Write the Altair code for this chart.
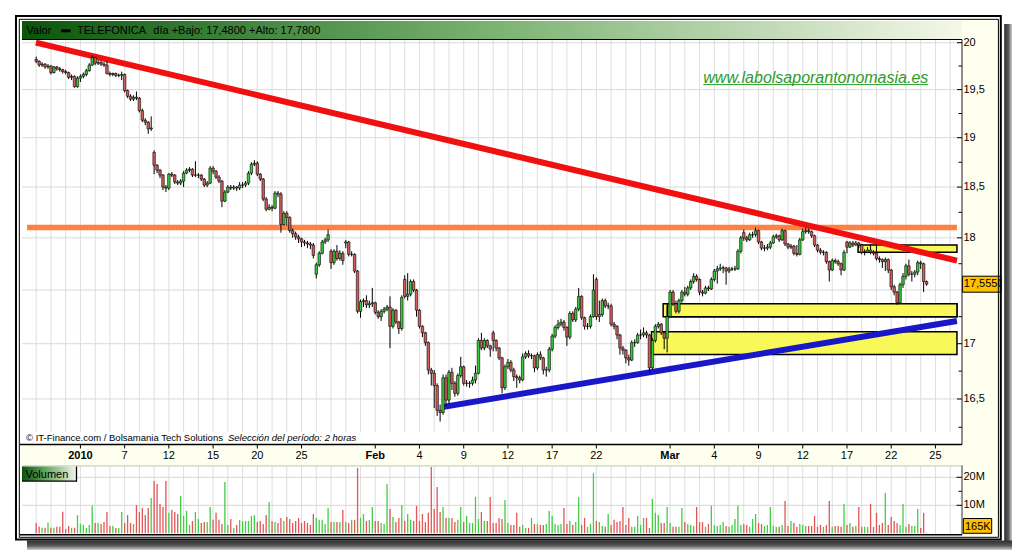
import altair as alt
import pandas as pd

# ------------------------------------------------------------------ axis categories
TRADING_DAYS = [d for d in pd.bdate_range("2009-12-29", "2010-03-26") if d != pd.Timestamp("2010-01-01")]
FIRST_2010 = TRADING_DAYS.index(pd.Timestamp("2010-01-04"))
BARS_PER_DAY = 5  # 2-hour bars

DATE_TICKS = ["2010-01-04", "2010-01-07", "2010-01-12", "2010-01-15", "2010-01-20", "2010-01-25",
              "2010-02-01", "2010-02-04", "2010-02-09", "2010-02-12", "2010-02-17", "2010-02-22",
              "2010-03-01", "2010-03-04", "2010-03-09", "2010-03-12", "2010-03-17", "2010-03-22", "2010-03-25"]
DATE_LABELS = ["2010", "7", "12", "15", "20", "25", "Feb", "4", "9", "12", "17", "22",
               "Mar", "4", "9", "12", "17", "22", "25"]
DATE_BOLD = [True, False, False, False, False, False, True, False, False, False, False, False,
             True, False, False, False, False, False, False]

PRICE_MAJOR = [16.5, 17.0, 18.0, 18.5, 19.0, 19.5, 20.0]       # labelled (17,5 hidden under the quote box)
PRICE_MINOR = [16.25, 16.75, 17.25, 17.75, 18.25, 18.75, 19.25, 19.75]
PRICE_GRID = [16.5, 17.0, 17.5, 18.0, 18.5, 19.0, 19.5, 20.0]
VOLUME_MAJOR = [10, 20]
VOLUME_MINOR = [15]

# ------------------------------------------------------------------ TELEFONICA 2-hour bars
FIRST_OPEN = 19.82
CLOSE = [
    19.80, 19.76, 19.77, 19.74, 19.75,  19.68, 19.74, 19.72, 19.71, 19.69,  19.68, 19.63, 19.64, 19.53, 19.62,
    19.64, 19.66, 19.70, 19.76, 19.84,  19.78, 19.79, 19.77, 19.76, 19.67,  19.66, 19.67, 19.65, 19.65, 19.66,
    19.49, 19.43, 19.40, 19.42, 19.41,  19.28, 19.18, 19.16, 19.09, 19.10,
    18.72, 18.67, 18.62, 18.50, 18.49,  18.63, 18.62, 18.55, 18.54, 18.56,  18.64, 18.67, 18.68, 18.62, 18.62,
    18.62, 18.58, 18.52, 18.54, 18.69,  18.66, 18.60, 18.56, 18.36, 18.45,
    18.50, 18.49, 18.50, 18.49, 18.52,  18.52, 18.54, 18.64, 18.73, 18.74,  18.63, 18.58, 18.38, 18.28, 18.30,
    18.29, 18.44, 18.43, 18.13, 18.24,  18.20, 18.07, 18.04, 18.01, 17.99,
    17.96, 17.95, 17.94, 17.93, 17.83,  17.74, 17.85, 17.96, 17.98, 18.03,  17.76, 17.87, 17.80, 17.85, 17.78,
    17.96, 17.84, 17.84, 17.68, 17.30,  17.39, 17.40, 17.36, 17.37, 17.38,
    17.29, 17.25, 17.30, 17.32, 17.34,  17.16, 17.31, 17.20, 17.14, 17.43,  17.44, 17.46, 17.58, 17.50, 17.31,
    17.16, 17.10, 17.01, 16.76, 16.73,  16.62, 16.40, 16.38, 16.69, 16.49,
    16.74, 16.64, 16.55, 16.71, 16.79,  16.64, 16.64, 16.64, 16.67, 16.73,  17.03, 16.96, 17.03, 16.98, 16.95,
    17.03, 16.96, 16.87, 16.60, 16.79,  16.83, 16.76, 16.70, 16.69, 16.67,
    16.88, 16.91, 16.89, 16.89, 16.78,  16.90, 16.87, 16.76, 16.76, 16.95,  17.07, 17.15, 17.18, 17.20, 17.15,
    17.06, 17.28, 17.22, 17.32, 17.44,  17.24, 17.16, 17.16, 17.25, 17.50,
    17.25, 17.27, 17.40, 17.35, 17.35,  17.18, 17.16, 17.08, 16.96, 16.94,  16.87, 16.85, 17.01, 17.01, 17.08,
    17.08, 17.10, 17.08, 16.78, 17.03,  17.16, 17.18, 17.10, 17.05, 17.25,
    17.48, 17.37, 17.30, 17.40, 17.48,  17.46, 17.52, 17.58, 17.63, 17.60,  17.48, 17.47, 17.52, 17.51, 17.60,
    17.68, 17.70, 17.71, 17.71, 17.68,  17.70, 17.70, 17.70, 17.87, 18.00,
    18.00, 17.98, 18.03, 18.03, 18.07,  17.96, 17.90, 17.90, 17.91, 17.95,  18.01, 18.02, 17.98, 18.07, 17.94,
    17.91, 17.92, 17.85, 17.84, 17.98,  18.06, 18.07, 18.06, 18.02, 17.93,
    17.88, 17.86, 17.86, 17.77, 17.69,  17.78, 17.77, 17.75, 17.69, 17.86,  17.91, 17.95, 17.93, 17.95, 17.93,
    17.86, 17.86, 17.88, 17.86, 17.85,  17.80, 17.79, 17.77, 17.79, 17.69,
    17.53, 17.48, 17.38, 17.55, 17.63,  17.73, 17.65, 17.65, 17.67, 17.76,  17.75, 17.58, 17.555,
]
HIGH = [
    19.85, 19.81, 19.79, 19.78, 19.77,  19.76, 19.75, 19.75, 19.74, 19.72,  19.71, 19.69, 19.66, 19.65, 19.64,
    19.66, 19.68, 19.72, 19.78, 19.86,  19.85, 19.81, 19.80, 19.79, 19.80,  19.69, 19.68, 19.68, 19.67, 19.69,
    19.67, 19.50, 19.45, 19.44, 19.48,  19.42, 19.30, 19.20, 19.17, 19.22,
    18.87, 18.73, 18.68, 18.63, 18.52,  18.64, 18.65, 18.63, 18.57, 18.58,  18.66, 18.69, 18.70, 18.69, 18.76,
    18.64, 18.63, 18.59, 18.56, 18.71,  18.71, 18.67, 18.62, 18.57, 18.47,
    18.52, 18.52, 18.52, 18.51, 18.55,  18.55, 18.56, 18.66, 18.75, 18.77,  18.76, 18.64, 18.59, 18.40, 18.33,
    18.32, 18.46, 18.46, 18.45, 18.26,  18.26, 18.21, 18.09, 18.06, 18.03,
    18.00, 17.98, 17.97, 17.96, 17.95,  17.76, 17.87, 17.98, 18.00, 18.08,  17.89, 17.89, 17.93, 17.88, 17.87,
    17.98, 17.97, 17.87, 17.85, 17.69,  17.41, 17.42, 17.45, 17.40, 17.52,
    17.39, 17.31, 17.32, 17.34, 17.36,  17.44, 17.33, 17.32, 17.21, 17.45,  17.64, 17.66, 17.60, 17.60, 17.51,
    17.32, 17.17, 17.11, 17.02, 16.78,  16.76, 16.64, 16.45, 16.72, 16.72,
    16.76, 16.78, 16.66, 16.73, 16.88,  16.80, 16.67, 16.66, 16.70, 16.80,  17.05, 17.10, 17.05, 17.04, 16.99,
    17.12, 17.04, 16.97, 16.88, 16.81,  16.86, 16.85, 16.78, 16.72, 16.71,
    16.91, 16.93, 16.94, 16.91, 16.90,  16.92, 16.93, 16.88, 16.79, 16.97,  17.09, 17.17, 17.22, 17.23, 17.22,
    17.16, 17.30, 17.30, 17.34, 17.52,  17.45, 17.25, 17.19, 17.27, 17.65,
    17.62, 17.40, 17.42, 17.42, 17.38,  17.37, 17.20, 17.17, 17.09, 16.98,  16.95, 16.90, 17.03, 17.04, 17.10,
    17.13, 17.15, 17.12, 17.09, 17.05,  17.18, 17.20, 17.19, 17.11, 17.35,
    17.50, 17.50, 17.40, 17.42, 17.50,  17.53, 17.54, 17.60, 17.66, 17.65,  17.61, 17.50, 17.54, 17.54, 17.62,
    17.70, 17.73, 17.75, 17.73, 17.72,  17.72, 17.72, 17.73, 17.89, 18.02,
    18.08, 18.02, 18.05, 18.06, 18.10,  18.08, 17.97, 17.93, 17.94, 17.97,  18.03, 18.04, 18.03, 18.09, 18.08,
    17.95, 17.94, 17.93, 17.93, 18.00,  18.09, 18.10, 18.09, 18.07, 18.03,
    17.94, 17.90, 17.88, 17.87, 17.78,  17.80, 17.80, 17.79, 17.76, 17.88,  17.97, 17.97, 17.97, 17.97, 17.96,
    17.94, 17.89, 17.91, 17.94, 17.88,  17.94, 17.82, 17.80, 17.81, 17.80,
    17.70, 17.55, 17.49, 17.57, 17.66,  17.75, 17.79, 17.68, 17.69, 17.78,  17.78, 17.76, 17.59,
]
LOW = [
    19.78, 19.74, 19.74, 19.72, 19.72,  19.66, 19.67, 19.70, 19.69, 19.67,  19.66, 19.61, 19.60, 19.52, 19.52,
    19.58, 19.62, 19.64, 19.69, 19.75,  19.76, 19.76, 19.75, 19.74, 19.66,  19.64, 19.64, 19.63, 19.63, 19.60,
    19.47, 19.41, 19.38, 19.38, 19.39,  19.26, 19.16, 19.13, 19.04, 19.07,
    18.63, 18.64, 18.59, 18.47, 18.45,  18.47, 18.60, 18.53, 18.52, 18.52,  18.50, 18.63, 18.65, 18.60, 18.60,
    18.59, 18.56, 18.50, 18.50, 18.53,  18.63, 18.58, 18.54, 18.30, 18.35,
    18.44, 18.47, 18.47, 18.46, 18.47,  18.49, 18.50, 18.52, 18.62, 18.71,  18.61, 18.56, 18.36, 18.26, 18.27,
    18.26, 18.28, 18.40, 18.05, 18.12,  18.12, 18.05, 18.00, 17.98, 17.95,
    17.91, 17.92, 17.90, 17.89, 17.80,  17.61, 17.72, 17.84, 17.94, 17.96,  17.70, 17.74, 17.78, 17.78, 17.74,
    17.90, 17.82, 17.82, 17.66, 17.28,  17.24, 17.34, 17.33, 17.33, 17.34,
    17.27, 17.23, 17.21, 17.28, 17.30,  16.96, 17.14, 17.18, 17.09, 17.12,  17.42, 17.40, 17.44, 17.48, 17.25,
    17.14, 17.06, 16.98, 16.72, 16.62,  16.42, 16.35, 16.30, 16.36, 16.44,
    16.46, 16.58, 16.52, 16.53, 16.69,  16.62, 16.61, 16.60, 16.62, 16.64,  16.72, 16.94, 16.94, 16.96, 16.88,
    16.93, 16.93, 16.85, 16.55, 16.58,  16.77, 16.74, 16.66, 16.60, 16.64,
    16.66, 16.86, 16.87, 16.86, 16.74,  16.76, 16.85, 16.72, 16.70, 16.74,  16.93, 17.05, 17.13, 17.16, 17.12,
    16.98, 17.04, 17.20, 17.20, 17.30,  17.22, 17.13, 17.13, 17.14, 17.24,
    17.22, 17.20, 17.25, 17.33, 17.32,  17.16, 17.13, 17.04, 16.90, 16.90,  16.82, 16.80, 16.84, 16.97, 17.00,
    17.04, 17.06, 17.05, 16.74, 16.76,  17.01, 17.14, 17.08, 16.95, 16.92,
    17.24, 17.35, 17.28, 17.28, 17.38,  17.44, 17.44, 17.50, 17.56, 17.58,  17.45, 17.44, 17.46, 17.49, 17.50,
    17.58, 17.56, 17.68, 17.66, 17.55,  17.66, 17.68, 17.68, 17.69, 17.85,
    17.97, 17.96, 17.97, 18.00, 18.01,  17.94, 17.88, 17.87, 17.88, 17.89,  17.94, 17.99, 17.96, 17.97, 17.92,
    17.89, 17.89, 17.83, 17.82, 17.83,  17.97, 18.04, 18.04, 18.00, 17.91,
    17.86, 17.84, 17.83, 17.75, 17.58,  17.68, 17.75, 17.73, 17.64, 17.68,  17.85, 17.90, 17.91, 17.92, 17.90,
    17.84, 17.83, 17.85, 17.84, 17.83,  17.78, 17.76, 17.71, 17.68, 17.66,
    17.50, 17.45, 17.36, 17.37, 17.52,  17.60, 17.63, 17.58, 17.62, 17.64,  17.70, 17.48, 17.54,
]
# bars that open away from the previous close (gaps)
GAP_OPEN = {40: 18.85, 95: 17.65, 100: 17.87, 105: 17.95, 125: 17.60, 155: 17.10,
            190: 17.60, 240: 18.05, 275: 17.96}
# volume per bar, millions of shares
VOLUME_M = [
    3.7, 2.4, 2.0, 2.0, 3.9, 2.0, 2.0, 2.3, 2.3, 7.7,  1.5, 2.6, 2.0, 2.0, 6.5, 3.3, 3.0, 1.9, 3.0, 9.8,
    3.7, 3.7, 3.3, 4.0, 7.6, 2.6, 2.7, 1.9, 1.9, 7.6,  3.7, 6.5, 3.7, 3.3, 10.1, 7.6, 9.0, 6.5, 9.0, 12.6,
    18.7, 17.6, 10.5, 9.4, 18.7, 7.3, 8.3, 7.6, 6.9, 13.3,  6.2, 8.0, 3.0, 4.4, 7.6, 5.1, 3.7, 4.0, 4.0, 9.4,
    4.8, 7.3, 4.8, 3.3, 18.3, 3.0, 5.1, 1.9, 3.0, 4.8,  4.4, 4.4, 4.4, 6.2, 6.5, 4.0, 4.4, 3.3, 6.5, 11.2,
    4.4, 4.0, 3.7, 5.5, 4.4, 5.8, 5.1, 3.7, 4.4, 5.5,  3.7, 4.4, 3.7, 3.0, 6.9, 5.5, 4.8, 4.8, 3.3, 9.0,
    4.0, 4.0, 4.0, 4.0, 8.3, 4.0, 3.7, 4.8, 4.8, 23.3,  5.5, 6.9, 4.4, 4.8, 9.4, 4.4, 4.4, 3.7, 3.3, 17.6,
    8.7, 5.8, 4.0, 5.5, 10.1, 4.4, 6.9, 4.8, 4.4, 9.8,  4.4, 6.9, 4.0, 7.3, 23.7, 8.7, 16.5, 7.6, 9.4, 5.5,
    5.5, 5.5, 4.0, 4.8, 9.4, 4.0, 6.2, 3.7, 3.7, 13.0,  5.1, 7.6, 4.4, 4.4, 13.0, 3.7, 3.7, 5.5, 5.1, 11.9,
    3.7, 3.0, 3.0, 7.3, 2.3, 3.0, 1.9, 1.9, 5.5, 3.3,  3.3, 3.0, 3.0, 3.3, 8.0, 6.2, 3.3, 3.0, 3.3, 9.0,
    3.3, 4.4, 3.0, 4.0, 13.0, 3.0, 5.5, 2.3, 3.3, 21.5,  4.4, 4.0, 2.6, 2.3, 6.9, 3.0, 4.8, 4.0, 4.4, 9.4,
    3.0, 5.5, 2.3, 2.3, 6.2, 3.0, 5.5, 5.5, 1.9, 12.3,  7.3, 6.5, 3.7, 3.7, 9.4, 3.7, 2.3, 2.3, 2.3, 9.0,
    4.0, 3.3, 3.0, 2.6, 9.4, 4.0, 4.0, 2.3, 3.3, 9.8,  3.0, 2.6, 3.0, 4.0, 2.6, 2.3, 3.0, 5.1, 9.8, 3.0,
    3.3, 3.0, 2.3, 5.1, 6.9, 3.7, 3.3, 2.6, 3.0, 9.4,  2.6, 2.3, 2.3, 3.0, 11.5, 2.6, 4.4, 3.7, 2.3, 3.3,
    3.0, 2.6, 2.6, 2.6, 6.2, 2.3, 3.0, 2.3, 3.0, 11.5,  2.3, 2.6, 2.6, 2.3, 10.5, 3.0, 3.7, 2.3, 2.6, 9.4,
    2.3, 2.3, 2.3, 10.5, 2.3, 7.3, 3.0, 3.7, 14.4, 3.0,  5.8, 4.4, 3.7, 3.0, 10.5, 2.3, 3.3, 2.6, 2.6, 8.7,
    1.9, 7.3, 0.165,
]

# drawn analysis (trend lines and zones), in day units / euros
RED_X, RED_P = [-3.02, 59.46], [20.0, 17.78]
ORANGE_X, ORANGE_P = [-3.62, 59.46], [18.10, 18.10]
BLUE_X, BLUE_P = [24.63, 59.46], [16.43, 17.21]
ZONE_LEFT = [52.75, 39.53, 39.82, 38.74]
ZONE_RIGHT = [59.46, 59.46, 59.46, 59.46]
ZONE_LOW = [17.86, 17.25, 17.25, 16.90]
ZONE_HIGH = [17.93, 17.37, 17.37, 17.11]

# ------------------------------------------------------------------ tables
rows = []
prev = FIRST_OPEN
for i, c in enumerate(CLOSE):
    o = GAP_OPEN.get(i, prev)
    rows.append({
        "x": i // BARS_PER_DAY - FIRST_2010 + (i % BARS_PER_DAY) / BARS_PER_DAY,
        "open": o, "close": c,
        "high": max(HIGH[i], o, c), "low": min(LOW[i], o, c),
        "vol": VOLUME_M[i], "up": c >= o,
    })
    prev = c
bars = pd.DataFrame(rows)
up_bars = bars[bars["up"]]
down_bars = bars[~bars["up"]]

days_df = pd.DataFrame({"d": [i - FIRST_2010 for i in range(len(TRADING_DAYS))]})
ticks_df = pd.DataFrame({
    "d": [TRADING_DAYS.index(pd.Timestamp(t)) - FIRST_2010 for t in DATE_TICKS],
    "label": DATE_LABELS, "bold": DATE_BOLD,
})
zones_df = pd.DataFrame({"x1": ZONE_LEFT, "x2": ZONE_RIGHT, "lo": ZONE_LOW, "hi": ZONE_HIGH})
price_major_df = pd.DataFrame({"p": PRICE_MAJOR,
                               "t": [f"{v:g}".replace(".", ",") for v in PRICE_MAJOR]})
price_minor_df = pd.DataFrame({"p": PRICE_MINOR})
vol_major_df = pd.DataFrame({"v": VOLUME_MAJOR, "t": [f"{v}M" for v in VOLUME_MAJOR]})
vol_minor_df = pd.DataFrame({"v": VOLUME_MINOR})
LAST_PRICE = CLOSE[-1]
LAST_VOL = VOLUME_M[-1]

# ------------------------------------------------------------------ layout / style
W, H = 940, 494
OX, OY = 22, 40  # page position of plot origin
FONT = "Liberation Sans"
XS = alt.Scale(domain=[-3.624, 59.463], nice=False, zero=False)
PS = alt.Scale(type="log", domain=[16.2, 20.2], range=[392.96, -15.73], nice=False)
VS = alt.Scale(domain=[0, 20], range=[493.3, 437.3], nice=False)
ONE = pd.DataFrame({"k": [0]})


def X(f):
    return alt.X(f, type="quantitative", scale=XS, axis=None)


def YP(f):
    return alt.Y(f, type="quantitative", scale=PS, axis=None)


def YV(f):
    return alt.Y(f, type="quantitative", scale=VS, axis=None)


def rect(x1, y1, x2, y2, **kw):
    return alt.Chart(ONE).mark_rect(clip=False, **kw).encode(
        x=alt.value(x1 - OX), x2=alt.value(x2 - OX), y=alt.value(y1 - OY), y2=alt.value(y2 - OY))


def hline(x1, x2, y, color="black", w=1.0):
    return alt.Chart(ONE).mark_rule(clip=False, color=color, strokeWidth=w).encode(
        x=alt.value(x1 - OX), x2=alt.value(x2 - OX), y=alt.value(y - OY))


def vline(x, y1, y2, color="black", w=1.0):
    return alt.Chart(ONE).mark_rule(clip=False, color=color, strokeWidth=w).encode(
        x=alt.value(x - OX), y=alt.value(y1 - OY), y2=alt.value(y2 - OY))


def label(x, y, txt, size=11, **kw):
    return alt.Chart(ONE).mark_text(clip=False, text=txt, font=FONT, fontSize=size, align="left",
                                    baseline="alphabetic", color="black", **kw).encode(
        x=alt.value(x - OX), y=alt.value(y - OY))


def grad(stops, vertical=False):
    return alt.LinearGradient(
        gradient="linear", x1=0, y1=0, x2=0 if vertical else 1, y2=1 if vertical else 0,
        stops=[alt.GradientStop(offset=o, color=c) for o, c in stops])


# ------------------------------------------------------------------ background panels
back = [
    rect(962, 20, 998, 537, fill="#fffff0"),
    rect(22, 444.5, 962, 465.5, fill="#fffff0"),
    rect(22, 21, 962, 39.5, fill=grad([(0, "#0a550a"), (0.22, "#3c823a"), (0.51, "#7db473"),
                                       (0.8, "#c3dab9"), (1, "#f5f8e8")])),
    hline(22, 962, 39.5, "black", 1),
    label(26.5, 33.7, "Valor"),
    rect(61.3, 29.3, 70.5, 32.3, fill="black"),
    label(77, 33.7, "TELEFONICA"),
    label(153.3, 33.7, "día +Bajo: 17,4800 +Alto: 17,7800"),
]

vgrid = [
    alt.Chart(days_df).mark_rule(color="#dedede", strokeWidth=1).encode(
        x=X("d"), y=alt.value(0), y2=alt.value(392)),
    alt.Chart(days_df).mark_rule(color="#dedede", strokeWidth=1).encode(
        x=X("d"), y=alt.value(426), y2=alt.value(494)),
]

# ------------------------------------------------------------------ price panel
price_grid = alt.Chart(pd.DataFrame({"p": PRICE_GRID})).mark_rule(color="#dadada", strokeWidth=1).encode(
    y=YP("p"), x=alt.value(0), x2=alt.value(W))
zones = alt.Chart(zones_df).mark_rect(fill="#f8f858", stroke="black", strokeWidth=1.5).encode(
    x=X("x1"), x2=alt.X2("x2"), y=YP("lo"), y2=alt.Y2("hi"))
orange = alt.Chart(pd.DataFrame({"x": ORANGE_X, "p": ORANGE_P})).mark_line(
    color="#ff8040", strokeWidth=5.5, strokeCap="butt").encode(x=X("x"), y=YP("p"))
red = alt.Chart(pd.DataFrame({"x": RED_X, "p": RED_P})).mark_line(
    color="#f01010", strokeWidth=6, strokeCap="butt").encode(x=X("x"), y=YP("p"))
blue = alt.Chart(pd.DataFrame({"x": BLUE_X, "p": BLUE_P})).mark_line(
    color="#1818c8", strokeWidth=6, strokeCap="butt").encode(x=X("x"), y=YP("p"))
wicks = alt.Chart(bars).mark_rule(color="black", strokeWidth=1).encode(
    x=X("x"), y=YP("low"), y2=alt.Y2("high"))
bodies_up = alt.Chart(up_bars).mark_bar(size=2.5, fill="#38c838", stroke="black", strokeWidth=0.6).encode(
    x=X("x"), y=YP("open"), y2=alt.Y2("close"))
bodies_down = alt.Chart(down_bars).mark_bar(size=2.5, fill="#d25c5c", stroke="black", strokeWidth=0.6).encode(
    x=X("x"), y=YP("open"), y2=alt.Y2("close"))
# right-hand price scale (ticks inside the panel edge, labels outside)
p_major_ticks = alt.Chart(price_major_df).mark_rule(color="black", strokeWidth=1, clip=False).encode(
    y=YP("p"), x=alt.value(935), x2=alt.value(940))
p_minor_ticks = alt.Chart(price_minor_df).mark_rule(color="black", strokeWidth=1, clip=False).encode(
    y=YP("p"), x=alt.value(936.5), x2=alt.value(940))
p_labels = alt.Chart(price_major_df).mark_text(font=FONT, fontSize=11, align="left", baseline="middle",
                                               color="black", clip=False).encode(
    y=YP("p"), x=alt.value(941.5), text="t:N")
last_df = pd.DataFrame({"p": [LAST_PRICE], "t": [f"{LAST_PRICE:.4f}".replace(".", ",")]})
last_box = alt.Chart(last_df).mark_tick(orient="horizontal", size=39, thickness=16, color="#ffc000",
                                        stroke="black", strokeWidth=1, opacity=1, clip=False).encode(
    x=alt.value(982 - OX), y=YP("p"))
last_txt = alt.Chart(last_df).mark_text(font=FONT, fontSize=11, align="left", baseline="middle",
                                        color="black", clip=False).encode(
    x=alt.value(963.8 - OX), y=YP("p"), text="t:N")

price_group = alt.layer(price_grid, zones, orange, red, blue, wicks, bodies_up, bodies_down,
                        p_major_ticks, p_minor_ticks, p_labels, last_box, last_txt)

# ------------------------------------------------------------------ volume panel
vol_grid = alt.Chart(vol_major_df).mark_rule(color="#d6d6d6", strokeWidth=1).encode(
    y=YV("v"), x=alt.value(0), x2=alt.value(W))
vol_up = alt.Chart(up_bars).mark_bar(size=1.3, color="#44cc44").encode(x=X("x"), y=YV("vol"))
vol_down = alt.Chart(down_bars).mark_bar(size=1.3, color="#e05555").encode(x=X("x"), y=YV("vol"))
v_major_ticks = alt.Chart(vol_major_df).mark_rule(color="black", strokeWidth=1, clip=False).encode(
    y=YV("v"), x=alt.value(934.5), x2=alt.value(940))
v_minor_ticks = alt.Chart(vol_minor_df).mark_rule(color="black", strokeWidth=1, clip=False).encode(
    y=YV("v"), x=alt.value(936.5), x2=alt.value(940))
v_labels = alt.Chart(vol_major_df).mark_text(font=FONT, fontSize=11, align="left", baseline="middle",
                                             color="black", clip=False).encode(
    y=YV("v"), x=alt.value(941.5), text="t:N")
vol_group = alt.layer(vol_grid, vol_up, vol_down, v_major_ticks, v_minor_ticks, v_labels)

# ------------------------------------------------------------------ date band, labels, frame
date_ticks = alt.Chart(ticks_df).mark_rule(color="black", strokeWidth=1).encode(
    x=X("d"), y=alt.value(445 - OY), y2=alt.value(448.5 - OY))
date_norm = alt.Chart(ticks_df[~ticks_df["bold"]]).mark_text(
    font=FONT, fontSize=11, align="center", baseline="alphabetic", color="black").encode(
    x=X("d"), y=alt.value(458.7 - OY), text="label:N")
date_bold = alt.Chart(ticks_df[ticks_df["bold"]]).mark_text(
    font=FONT, fontSize=11, fontWeight="bold", align="center", baseline="alphabetic", color="black").encode(
    x=X("d"), y=alt.value(458.7 - OY), text="label:N")

front = [
    vline(962, 39.5, 444.5, "#202020", 1),
    hline(20, 962, 444.5, "black", 1.5),
    hline(22, 962, 465.8, "#c8d4c0", 1.2),
    vline(962, 465.5, 534.8, "#303030", 1),
    hline(20, 962, 534.8, "black", 1.5),
    date_ticks, date_norm, date_bold,
    label(703.3, 82.7, "www.labolsaporantonomasia.es", size=16, fontStyle="italic", fill="#2b9b2b"),
    hline(703.3, 928.3, 84.6, "#2b9b2b", 1),
    label(26, 440.5, "© IT-Finance.com / Bolsamania Tech Solutions", size=9.5),
    label(228, 440.5, "Selección del período: 2 horas", size=9.5, fontStyle="italic"),
    rect(22, 466.5, 76.5, 481, fill=grad([(0, "#0a550a"), (0.45, "#6aa862"), (1, "#f2f6ea")])),
    vline(76.5, 466.5, 481.5, "black", 1.3),
    hline(22, 77, 481.2, "black", 1.3),
    label(25.5, 478.3, "Volumen"),
    rect(963.3, 518.5, 991.7, 533.3, fill="#ffc000", stroke="black", strokeWidth=1),
    label(965, 530.3, f"{round(LAST_VOL * 1000)}K"),
    # outer frame and drop shadow
    rect(1001.6, 14, 1004.2, 542, fill="white"),
    rect(1004.2, 24, 1012, 550, fill=grad([(0, "#2e2e2e"), (0.55, "#5a5a5a"), (1, "#d0d0d0")])),
    rect(27, 540.6, 1012, 550, fill=grad([(0, "#2e2e2e"), (0.55, "#5a5a5a"), (1, "#d0d0d0")], vertical=True)),
    rect(19.3, 19.3, 998.4, 537.3, fillOpacity=0, stroke="black", strokeWidth=1),
    rect(16, 16, 1000.8, 539.5, fillOpacity=0, stroke="black", strokeWidth=2),
]

chart = alt.layer(*back, *vgrid, price_group, vol_group, *front).resolve_scale(
    y="independent"
).properties(
    width=W, height=H,
    autosize=alt.AutoSizeParams(type="none"),
    padding={"left": OX - 8, "top": OY - 8, "right": 50, "bottom": 16},
    background="white",
).configure_view(strokeWidth=0)

chart.save("out.html", embed_options={"renderer": "svg", "actions": False})
